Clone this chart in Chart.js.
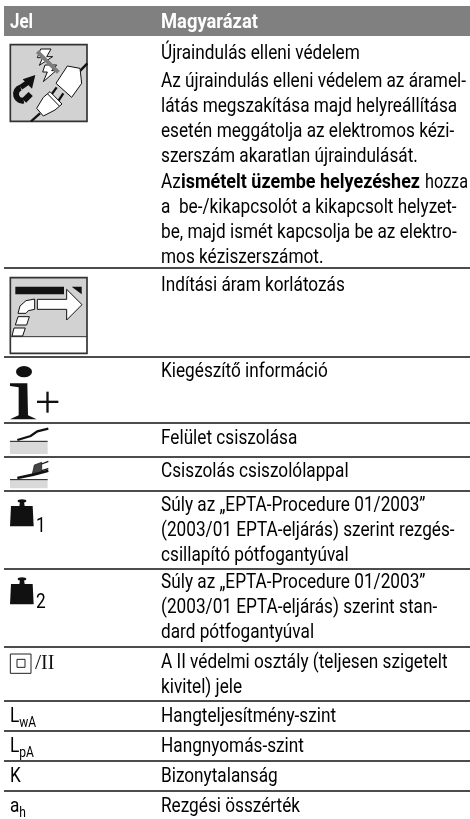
<!DOCTYPE html>
<html>
<head>
<meta charset="utf-8">
<script src="https://cdn.jsdelivr.net/npm/chart.js@4"></script>
<style>
html,body{margin:0;padding:0;background:#fff;}
canvas{display:block;}
</style>
</head>
<body>
<canvas id="chart" width="470" height="819"></canvas>
<script>
const headers = ["Jel","Magyarázat"];

// symbol column, plain text ones only ("" = pictogram)
const symbols = ["","","","","","","","","L|wA","L|pA","K","a|h"];

const descriptions = [
["Újraindulás elleni védelem"],
["Indítási áram korlátozás"],
["Kiegészítő információ"],
["Felület csiszolása"],
["Csiszolás csiszolólappal"],
["Súly az „EPTA-Procedure 01/2003”","(2003/01 EPTA-eljárás) szerint rezgés-","csillapító pótfogantyúval"],
["Súly az „EPTA-Procedure 01/2003”","(2003/01 EPTA-eljárás) szerint stan-","dard pótfogantyúval"],
["A II védelmi osztály (teljesen szigetelt","kivitel) jele"],
["Hangteljesítmény-szint"],
["Hangnyomás-szint"],
["Bizonytalanság"],
["Rezgési összérték"]
];

const restartNote = ["Az újraindulás elleni védelem az áramel-","látás megszakítása majd helyreállítása","esetén meggátolja az elektromos kézi-","szerszám akaratlan újraindulását."];
const restartBold = ["Az","ismételt üzembe helyezéshez","hozza"];
const restartHint = ["a  be-/kikapcsolót a kikapcsolt helyzet-","be, majd ismét kapcsolja be az elektro-","mos kéziszerszámot."];

// rules under each row and first text baseline of each row, page units
const rowRules = [268,357,423,457,491,569,647,701,731,761,791];
const rowBaselines = [59,291,377,444,477,511,588,668,722,752,782,812];

const FONT = 'Roboto,"Liberation Sans",sans-serif';
const LINE = 25;
const TEXT_X = 161;
const SYM_X = 10;
const SIZE = 20;
let squeeze = 1;

function tx(ctx,s,x,y,size,bold,color,fitW){
ctx.font=(bold?"bold ":"")+size+"px "+FONT;
ctx.fillStyle=color||"#000";
ctx.textBaseline="alphabetic";
ctx.textAlign="left";
const w = ctx.measureText(s).width;
const k = fitW ? fitW/w : squeeze;
ctx.save();
ctx.translate(x,y);
ctx.scale(k,1);
ctx.fillText(s,0,0);
ctx.restore();
return w*k;
}

function poly(ctx,pts,fill,stroke,lw){
ctx.beginPath();
pts.forEach((p,i)=>i?ctx.lineTo(p[0],p[1]):ctx.moveTo(p[0],p[1]));
ctx.closePath();
if(fill){ctx.fillStyle=fill;ctx.fill();}
if(stroke){ctx.strokeStyle=stroke;ctx.lineWidth=lw||3;ctx.stroke();}
}

function path(ctx,pts,stroke,lw){
ctx.beginPath();
pts.forEach((p,i)=>i?ctx.lineTo(p[0],p[1]):ctx.moveTo(p[0],p[1]));
ctx.strokeStyle=stroke;ctx.lineWidth=lw;ctx.stroke();
}

// ---------- PICTOGRAMS (drawn at 3x, origin is top of page region) ----------
function iconPlug(ctx){
ctx.save();ctx.scale(1/3,1/3);
poly(ctx,[[31,134],[261,134],[261,364],[31,364]],"#d2d2d2","#333",5);
poly(ctx,[[122,147],[153,147],[140,170],[158,170],[118,196],[128,173],[112,173]],"#fff","#111",3);
poly(ctx,[[135,195],[170,195],[155,212],[168,212],[130,245],[142,216],[128,216]],"#fff","#111",3);
path(ctx,[[112,155],[175,217]],"#7d7d7d",12);
// magnet + arrow
ctx.beginPath();
ctx.arc(68,282,20,-0.6*Math.PI,0.45*Math.PI,true);
ctx.strokeStyle="#111";ctx.lineWidth=18;ctx.stroke();
path(ctx,[[62,262],[88,244]],"#111",16);
poly(ctx,[[106,225],[96,266],[68,238]],"#111");
path(ctx,[[72,302],[92,282]],"#111",18);
// socket
path(ctx,[[238,215],[262,190]],"#111",7);
poly(ctx,[[168,250],[202,198],[240,205],[245,250],[215,292]],"#fff","#111",3);
// pins
path(ctx,[[170,262],[150,290]],"#111",7);
path(ctx,[[190,280],[170,310]],"#111",7);
// plug
poly(ctx,[[110,325],[130,292],[150,275],[186,312],[165,330],[130,348]],"#fff","#111",3);
path(ctx,[[143,282],[178,318]],"#111",3);
path(ctx,[[120,340],[93,364]],"#111",7);
ctx.restore();
}

function iconSoftStart(ctx){
ctx.save();ctx.translate(0,270);ctx.scale(1/3,1/3);
poly(ctx,[[31,23],[261,23],[261,250],[31,250]],"#fff");
poly(ctx,[[31,23],[261,23],[261,200],[31,200]],"#d2d2d2");
poly(ctx,[[31,23],[261,23],[261,250],[31,250]],null,"#333",5);
path(ctx,[[31,200],[261,200]],"#333",3);
poly(ctx,[[46,50],[192,50],[192,73],[46,73]],"#111");
poly(ctx,[[215,50],[245,50],[245,73]],"#111");
poly(ctx,[[112,88],[200,88],[200,58],[246,104],[200,150],[200,118],[112,118]],"#fff","#111",3);
poly(ctx,[[104,87],[104,118],[85,122],[78,130],[54,130],[60,108],[78,92]],"#fff","#111",3);
poly(ctx,[[54,140],[88,140],[80,165],[46,165]],"#fff","#111",3);
poly(ctx,[[42,174],[76,174],[68,198],[36,198]],"#fff","#111",3);
ctx.restore();
}

function iconInfo(ctx){
ctx.save();ctx.translate(0,270);ctx.scale(1/3,1/3);
ctx.fillStyle="#111";
ctx.beginPath();ctx.ellipse(72,305,24,17,0,0,Math.PI*2);ctx.fill();
poly(ctx,[[30,340],[82,340],[84,436],[110,448],[30,448],[56,436],[56,352],[30,348]],"#111");
poly(ctx,[[111,392],[175,392],[175,399],[111,399]],"#111");
poly(ctx,[[139,365],[146,365],[146,428],[139,428]],"#111");
ctx.restore();
}

function iconSurface(ctx){
ctx.save();ctx.translate(0,270);ctx.scale(1/3,1/3);
poly(ctx,[[30,516],[143,516],[143,552],[30,552]],"#d9d9d9");
path(ctx,[[30,514],[143,514]],"#111",3);
path(ctx,[[52,510],[92,498],[112,484],[145,476]],"#111",7);
ctx.restore();
}

function iconSanding(ctx){
ctx.save();ctx.translate(0,270);ctx.scale(1/3,1/3);
poly(ctx,[[30,631],[143,631],[143,655],[30,655]],"#d9d9d9");
path(ctx,[[30,629],[143,629]],"#111",3);
poly(ctx,[[97,612],[103,585],[125,577],[125,606]],"#444","#111",2);
path(ctx,[[125,582],[145,574]],"#111",4);
path(ctx,[[125,602],[145,596]],"#111",4);
path(ctx,[[52,624],[100,614],[145,602]],"#111",8);
ctx.restore();
}

function iconWeight(ctx,top){
ctx.save();ctx.translate(0,top);ctx.scale(1/3,1/3);
ctx.fillStyle="#111";
ctx.beginPath();ctx.ellipse(66,6,13,5,0,0,Math.PI*2);ctx.fill();
poly(ctx,[[60,8],[72,8],[74,22],[58,22]],"#111");
poly(ctx,[[33,21],[98,21],[101,82],[30,82]],"#111");
ctx.restore();
}

function iconClass2(ctx){
ctx.save();ctx.translate(0,540);ctx.scale(1/3,1/3);
poly(ctx,[[31,342],[93,342],[93,400],[31,400]],"#fff","#222",3);
poly(ctx,[[51,358],[75,358],[75,382],[51,382]],"#fff","#222",3);
ctx.restore();
ctx.fillStyle="#111";
ctx.font='22px "Liberation Serif",serif';
ctx.fillText("/",35,669);
ctx.font='20px "Liberation Serif",serif';
ctx.fillText("II",41,669);
}

// ---------- TABLE TEXT ----------
const tablePlugin = {
id:"tableText",
afterDatasetsDraw(chart){
const ctx = chart.ctx;
const sx = chart.scales.x, sy = chart.scales.y;
const X = v=>sx.getPixelForValue(v);
const Y = v=>sy.getPixelForValue(v);
ctx.save();

// the original face is a condensed one, fit the longest line to its width
ctx.font=SIZE+"px "+FONT;
squeeze = 305/ctx.measureText(restartNote[0]).width;

tx(ctx,headers[0],X(SYM_X),Y(28),SIZE,true,"#fff",23);
tx(ctx,headers[1],X(TEXT_X),Y(28),SIZE,true,"#fff",97);

descriptions.forEach((lines,r)=>{
lines.forEach((s,i)=>tx(ctx,s,X(TEXT_X),Y(rowBaselines[r]+i*LINE),SIZE));
const sym = symbols[r];
if(sym){
const parts = sym.split("|");
const w = tx(ctx,parts[0],X(SYM_X),Y(rowBaselines[r]),SIZE);
if(parts[1]) tx(ctx,parts[1],X(SYM_X)+w,Y(rowBaselines[r]+5),14);
}
});

restartNote.forEach((s,i)=>tx(ctx,s,X(TEXT_X),Y(87+i*LINE),SIZE));
tx(ctx,restartBold[0],X(TEXT_X),Y(188),SIZE);
tx(ctx,restartBold[1],X(181),Y(188),SIZE,true,null,239);
tx(ctx,restartBold[2],X(425),Y(188),SIZE,false,null,43);
restartHint.forEach((s,i)=>tx(ctx,s,X(TEXT_X),Y(213+i*LINE),SIZE));

iconPlug(ctx);
iconSoftStart(ctx);
iconInfo(ctx);
iconSurface(ctx);
iconSanding(ctx);
iconWeight(ctx,499);
iconWeight(ctx,577);
tx(ctx,"1",36,532,SIZE);
tx(ctx,"2",36,608,SIZE);
iconClass2(ctx);

ctx.restore();
}
};

// ---------- CHART ----------
const ruleSets = rowRules.map(v=>({
type:"scatter",
showLine:true,
data:[{x:4,y:v},{x:470,y:v}],
borderColor:"#111",
borderWidth:1.4,
pointRadius:0,
clip:false
}));

const headerBar = {
type:"scatter",
showLine:true,
data:[{x:4,y:21},{x:470,y:21}],
borderColor:"#808080",
borderWidth:30,
borderCapStyle:"butt",
pointRadius:0,
clip:false
};

new Chart(document.getElementById("chart").getContext("2d"),{
type:"scatter",
data:{datasets:[headerBar].concat(ruleSets)},
options:{
responsive:false,
animation:false,
layout:{padding:0},
plugins:{legend:{display:false},tooltip:{enabled:false}},
scales:{
x:{type:"linear",min:0,max:470,display:false},
y:{type:"linear",min:0,max:819,reverse:true,display:false}
}
},
plugins:[tablePlugin]
});
</script>
</body>
</html>
